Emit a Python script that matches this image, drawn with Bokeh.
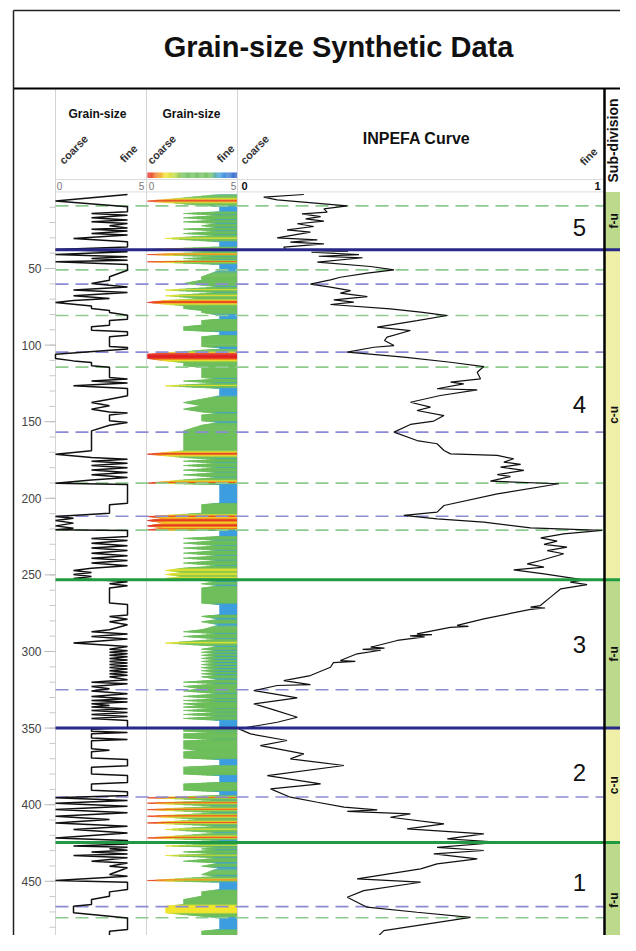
import numpy as np
from bokeh.plotting import figure
from bokeh.models import Range1d, LinearColorMapper, ColumnDataSource
from bokeh.embed import file_html
from bokeh.resources import INLINE
from bokeh.core.properties import value

# ---------------- data ----------------
gs_depth = [1.7, 6.0, 9.7, 13.0, 14.1, 15.2, 16.9, 18.4, 19.5, 20.6, 22.1, 23.5, 24.3, 25.6, 27.2, 28.2,
            30.4, 32.6, 35.9, 37.6, 39.1, 40.9, 42.4, 43.5, 44.6, 45.6, 47.4, 51.1, 55.4, 57.6, 59.8,
            62.0, 64.1, 65.7, 67.8, 69.6, 70.9, 72.2, 74.4, 76.1, 77.4, 78.7, 80.5, 83.1, 84.0, 87.0,
            88.1, 90.3, 91.3, 93.5, 94.6, 99.6, 100.9, 101.6, 102.5, 105.9, 108.7, 110.3, 111.4, 113.5,
            114.4, 121.1, 122.2, 123.5, 124.8, 126.6, 128.3, 133.1, 135.3, 137.5, 139.6, 141.8, 143.6,
            144.4, 145.7, 149.4, 150.5, 152.3, 156.0, 169.0, 171.2, 173.4, 174.5, 175.8, 177.1, 178.6,
            180.1, 181.6, 183.2, 184.7, 186.4, 188.0, 190.1, 191.0, 203.2, 204.2, 209.7, 211.9, 213.0,
            214.5, 216.2, 218.0, 219.5, 220.6, 221.0, 224.9, 226.2, 227.5, 229.3, 231.0, 232.5, 234.1,
            235.8, 237.5, 239.1, 240.6, 242.3, 244.1, 245.6, 247.1, 248.4, 249.7, 251.0, 252.3, 253.6,
            254.5, 255.8, 257.1, 258.6, 268.4, 269.3, 276.1, 277.1, 278.9, 280.6, 282.6, 285.8, 287.1,
            288.5, 290.2, 291.9, 294.5, 296.7, 298.5, 299.5, 300.5, 301.5, 302.5, 303.5, 304.5, 305.5,
            306.5, 307.5, 308.5, 309.5, 310.5, 311.5, 312.5, 313.5, 314.5, 315.5, 316.5, 318.4, 320.0,
            321.0, 322.8, 324.3, 325.8, 327.6, 329.3, 330.9, 332.0, 333.0, 334.1, 335.2, 336.3, 337.4,
            338.5, 339.8, 341.1, 342.4, 343.7, 345.0, 349.8, 350.7, 352.0, 352.8, 353.7, 356.5, 357.4,
            358.3, 363.5, 364.5, 365.5, 369.5, 370.5, 374.5, 375.5, 380.0, 381.0, 385.5, 386.5, 390.5,
            391.5, 394.0, 395.5, 397.2, 399.0, 401.0, 403.2, 405.3, 407.5, 409.7, 411.9, 414.0, 416.2,
            418.4, 421.7, 423.4, 425.6, 426.9, 427.8, 428.8, 429.7, 430.8, 432.1, 433.2, 434.7, 436.9,
            438.0, 440.2, 441.2, 445.6, 446.7, 449.5, 450.6, 455.4, 456.9, 459.7, 461.9, 465.2, 466.3,
            470.6, 471.7, 473.9, 481.5, 482.6, 489.1, 489.8, 496.0]
gs_grain = [4, 0, 4, 4, 2, 4, 2, 4, 2, 4, 3, 4, 2, 4, 2, 4,
            1, 4, 4, 0, 4, 0, 4, 2, 4, 0, 4, 4, 3, 3, 2,
            4, 1, 4, 1, 3, 1, 0, 2, 2, 3, 3, 4, 4, 3, 3,
            2, 2, 4, 4, 3, 3, 3, 4, 4, 0, 0, 1, 2, 2,
            3, 3, 4, 2, 4, 1, 4, 4, 3, 2, 3, 2, 3,
            4, 3, 3, 4, 3, 2, 2, 0, 2, 4, 2, 4, 2,
            4, 2, 4, 2, 4, 2, 0, 4, 4, 3, 3, 0, 1,
            0, 1, 0, 1, 0, 4, 4, 2, 4, 2, 4, 2, 4,
            2, 4, 2, 4, 2, 4, 2, 1, 2, 1, 2, 1, 3,
            4, 3, 4, 3, 3, 4, 4, 3, 4, 3, 4, 3, 2,
            4, 2, 4, 1, 4, 3, 4, 3, 4, 3, 4, 3, 4,
            3, 4, 3, 4, 3, 4, 3, 4, 3, 4, 3, 4, 2,
            4, 2, 3, 2, 4, 2, 4, 2, 4, 2, 3, 2, 4,
            2, 4, 2, 4, 2, 4, 4, 2, 2, 4, 2, 2, 4,
            2, 2, 3, 2, 2, 4, 4, 2, 2, 4, 4, 2, 2,
            4, 4, 0, 4, 0, 4, 0, 4, 0, 3, 0, 4, 1,
            4, 0, 4, 4, 1, 4, 3, 4, 2, 4, 1, 4, 2,
            4, 3, 4, 3, 4, 0, 4, 4, 3, 3, 2, 2, 1,
            1, 2, 4, 4, 3, 3, 4, 4]

inpefa_depth = [1.7, 3.4, 5.2, 9.1, 11.1, 13.2, 14.3, 16.1, 17.6, 19.1, 20.8, 22.6, 24.8, 26.3, 30.0,
                31.3, 32.8, 33.9, 36.1, 37.8, 38.6, 39.4, 41.0, 42.0, 43.0, 45.9, 48.7, 50.9, 53.0,
                55.7, 57.4, 60.2, 62.2, 64.4, 66.1, 68.3, 70.5, 72.0, 73.5, 76.3, 78.5, 80.7, 84.0,
                88.3, 90.5, 94.8, 97.0, 100.3, 101.4, 104.6, 107.9, 111.2, 114.0, 117.7, 122.0, 124.2,
                125.3, 128.5, 129.2, 132.9, 137.3, 140.5, 142.7, 146.0, 149.6, 151.8, 156.8, 162.3,
                164.4, 168.8, 171.0, 172.0, 174.2, 176.4, 177.9, 179.7, 181.8, 184.5, 185.8, 188.8,
                190.5, 197.1, 204.7, 209.0, 211.2, 213.4, 215.6, 219.3, 221.0, 223.2, 225.8, 228.0,
                230.1, 231.9, 234.1, 236.2, 240.6, 242.8, 244.9, 246.7, 249.3, 253.2, 254.7, 256.3,
                259.1, 264.5, 270.0, 271.0, 271.6, 272.5, 278.7, 283.0, 283.6, 284.3, 288.5, 289.0,
                289.8, 290.4, 292.8, 297.2, 297.8, 298.6, 299.2, 301.5, 305.9, 306.5, 307.3, 310.3,
                315.7, 319.0, 321.6, 322.2, 325.5, 327.7, 330.3, 334.2, 338.1, 342.9, 346.2, 350.5,
                353.8, 358.1, 361.4, 366.8, 370.1, 374.4, 381.0, 386.4, 389.7, 395.1, 398.4, 401.6,
                403.4, 404.3, 406.0, 408.2, 412.5, 415.8, 419.1, 422.3, 424.5, 427.8, 429.9, 432.1,
                435.4, 438.6, 441.9, 448.4, 450.6, 456.1, 460.4, 466.9, 470.2, 473.5, 482.2, 486.5,
                490.9, 496.0]
inpefa_value = [0.179, 0.069, 0.106, 0.298, 0.234, 0.243, 0.174, 0.225, 0.184, 0.234, 0.161, 0.206, 0.133, 0.197, 0.106,
                0.216, 0.142, 0.234, 0.124, 0.13, 0.30, 0.20, 0.33, 0.22, 0.34, 0.216, 0.362, 0.426, 0.353,
                0.279, 0.252, 0.197, 0.252, 0.307, 0.279, 0.353, 0.261, 0.316, 0.252, 0.416, 0.499, 0.572, 0.489,
                0.38, 0.471, 0.407, 0.40, 0.426, 0.371, 0.298, 0.453, 0.581, 0.672, 0.654, 0.663, 0.581,
                0.617, 0.544, 0.654, 0.553, 0.471, 0.526, 0.489, 0.563, 0.535, 0.471, 0.426, 0.489,
                0.544, 0.563, 0.581, 0.709, 0.754, 0.727, 0.773, 0.718, 0.782, 0.709, 0.745, 0.69,
                0.878, 0.709, 0.563, 0.544, 0.453, 0.544, 0.672, 0.8, 0.996, 0.891, 0.828, 0.873,
                0.837, 0.9, 0.846, 0.891, 0.828, 0.791, 0.837, 0.754, 0.837, 0.946, 0.909, 0.955,
                0.883, 0.855, 0.827, 0.80, 0.84, 0.80, 0.672, 0.599, 0.63, 0.58, 0.489, 0.53,
                0.47, 0.51, 0.435, 0.362, 0.40, 0.34, 0.39, 0.325, 0.279, 0.32, 0.26, 0.252,
                0.197, 0.124, 0.197, 0.106, 0.042, 0.097, 0.161, 0.042, 0.097, 0.161, 0.106, 0.001,
                0.033, 0.133, 0.06, 0.179, 0.142, 0.289, 0.079, 0.225, 0.088, 0.142, 0.216, 0.289,
                0.38, 0.298, 0.471, 0.416, 0.563, 0.462, 0.672, 0.572, 0.718, 0.544, 0.672, 0.535,
                0.654, 0.544, 0.499, 0.325, 0.499, 0.343, 0.298, 0.352, 0.489, 0.636, 0.398, 0.38,
                0.407, 0.407]

green_dashed_depths = [9.1, 50.9, 80.7, 114.4, 190.1, 220.8, 473.8]
blue_dashed_depths = [60.2, 104.6, 156.8, 211.7, 325.0, 395.0, 466.5]
navy_solid_depths = [37.8, 350.0]
green_solid_depths = [253.2, 424.6]

unit_labels = ["5", "4", "3", "2", "1"]
unit_depths = [23.0, 138.5, 295.5, 379.0, 451.0]

sub_tops = [0.0, 37.8, 253.2, 350.0, 424.6]
sub_bottoms = [37.8, 253.2, 350.0, 424.6, 500.0]
sub_labels = ["f-u", "c-u", "f-u", "c-u", "f-u"]

depth_major = [50, 100, 150, 200, 250, 300, 350, 400, 450]
depth_minor = list(range(10, 500, 10))

# ---------------- layout (picture pixels) ----------------
PL, PT, W, H = 0, 0, 620, 935
D0_PX, PX_PER_D = 191.4, 1.532


def Y(py):
    return (py - D0_PX) / PX_PER_D


FONT = value("Liberation Sans")

p = figure(width=W, height=H, output_backend="svg", toolbar_location=None,
           x_range=Range1d(PL, PL + W), y_range=Range1d(Y(PT + H), Y(PT)),
           x_axis_type=None, y_axis_type=None,
           min_border_left=0, min_border_right=0, min_border_top=0, min_border_bottom=0)
p.outline_line_color = None
p.background_fill_color = "white"
p.border_fill_color = "white"


def track_range(left_px, px_per_unit):
    return Range1d((PL - left_px) / px_per_unit, (PL + W - left_px) / px_per_unit)


p.extra_x_ranges = {"gs1": track_range(55, 18), "gs2": track_range(147, 18),
                    "inp": track_range(238, 365)}

# colour table
stops = [(0.0, (226, 35, 38)), (0.5, (240, 125, 32)), (1.0, (242, 230, 45)), (1.5, (190, 215, 62)),
         (2.0, (110, 190, 92)), (3.5, (110, 190, 92)), (4.0, (60, 158, 222)), (5.0, (45, 88, 200))]
pal = []
for t in np.linspace(0, 5, 256):
    for (a, ca), (b, cb) in zip(stops[:-1], stops[1:]):
        if a <= t <= b:
            f = (t - a) / (b - a)
            c = [int(round(ca[i] + (cb[i] - ca[i]) * f)) for i in range(3)]
            pal.append("#%02x%02x%02x" % tuple(c))
            break
mapper = LinearColorMapper(palette=pal, low=0, high=5)

RIGHT = PL + W

# sub-division column
p.quad(left=605, right=RIGHT, top=sub_tops, bottom=sub_bottoms,
       fill_color=["#bcd98c" if s == "f-u" else "#f0efa8" for s in sub_labels], line_color=None)

# track 2 fill
xs, ys, cs = [], [], []
for i in range(len(gs_depth) - 1):
    d0, d1, v0, v1 = gs_depth[i], gs_depth[i + 1], gs_grain[i], gs_grain[i + 1]
    n = 1 if v0 == v1 else 8
    for k in range(n):
        t0, t1 = k / n, (k + 1) / n
        da, db = d0 + (d1 - d0) * t0, d0 + (d1 - d0) * t1
        va, vb = v0 + (v1 - v0) * t0, v0 + (v1 - v0) * t1
        xs.append([va, vb, 5, 5])
        ys.append([da, db, db, da])
        cs.append((va + vb) / 2)
fill_src = ColumnDataSource(dict(xs=xs, ys=ys, c=cs))
p.patches("xs", "ys", source=fill_src, x_range_name="gs2",
          fill_color={"field": "c", "transform": mapper},
          line_color={"field": "c", "transform": mapper}, line_width=0.5)

# colour bar in header
cb_left = list(np.arange(0, 5, 0.05))
cb_src = ColumnDataSource(dict(l=cb_left, r=[v + 0.05 for v in cb_left], c=[v + 0.025 for v in cb_left]))
p.quad(left="l", right="r", top=Y(172), bottom=Y(177.5), source=cb_src, x_range_name="gs2",
       fill_color={"field": "c", "transform": mapper}, line_color=None)

# gray separators & header lines
bottom_d = 500
p.segment(x0=[55, 146, 237], y0=Y(88), x1=[55, 146, 237], y1=bottom_d, line_color="#d4d4d4", line_width=1)
p.segment(x0=55, y0=[Y(179), 0], x1=603, y1=[Y(179), 0], line_color="#dcdcdc", line_width=1)

# depth axis (ticks + labels)
p.segment(x0=49, y0=depth_minor, x1=55, y1=depth_minor, line_color="#c8c8c8", line_width=1)
p.segment(x0=44, y0=depth_major, x1=55, y1=depth_major, line_color="#bdbdbd", line_width=1)
p.text(x=41, y=depth_major, text=[str(t) for t in depth_major], text_font=FONT, text_font_size="12px",
       text_color="#444444", text_align="right", text_baseline="middle")

# correlation lines
p.segment(x0=55, y0=green_dashed_depths, x1=603, y1=green_dashed_depths, line_color="#8ecb8e",
          line_width=1.6, line_dash="13 7")
p.segment(x0=55, y0=blue_dashed_depths, x1=603, y1=blue_dashed_depths, line_color="#8c8cd4",
          line_width=1.6, line_dash="13 7")

# curves
p.line(x=gs_grain, y=gs_depth, x_range_name="gs1", line_color="#111111", line_width=1.5)
p.line(x=inpefa_value, y=inpefa_depth, x_range_name="inp", line_color="#111111", line_width=1.2)

# boundaries (solid)
p.segment(x0=55, y0=navy_solid_depths, x1=RIGHT, y1=navy_solid_depths, line_color="#27288a", line_width=3)
p.segment(x0=55, y0=green_solid_depths, x1=RIGHT, y1=green_solid_depths, line_color="#1f9a40", line_width=3)

# black frame lines
p.segment(x0=604, y0=Y(88), x1=604, y1=bottom_d, line_color="black", line_width=2.5)
p.segment(x0=13, y0=Y(88), x1=RIGHT, y1=Y(88), line_color="black", line_width=2.2)
p.segment(x0=[13, 13], y0=[Y(10), Y(10)], x1=[13, RIGHT], y1=[bottom_d, Y(10)], line_color="#222222",
          line_width=1.5)

# unit numbers
p.text(x=579, y=unit_depths, text=unit_labels, text_font=FONT, text_font_size="24px",
       text_color="#111111", text_align="center", text_baseline="middle")

# sub-division labels
sub_mid = [(a + b) / 2 for a, b in zip(sub_tops, sub_bottoms)]
p.text(x=613, y=sub_mid, text=sub_labels, text_font=FONT, text_font_size="12px", text_font_style="bold",
       text_color="#111111", text_align="center", text_baseline="middle", angle=np.pi / 2)

# headers
p.text(x=[338], y=[Y(46)], text=["Grain-size Synthetic Data"], text_font=FONT, text_font_size="29px",
       text_font_style="bold", text_color="#111111", text_align="center", text_baseline="middle")
p.text(x=[97, 191], y=[Y(113), Y(113)], text=["Grain-size", "Grain-size"], text_font=FONT,
       text_font_size="12px", text_font_style="bold", text_color="#111111", text_align="center",
       text_baseline="middle")
p.text(x=[416], y=[Y(138)], text=["INPEFA Curve"], text_font=FONT, text_font_size="16px",
       text_font_style="bold", text_color="#111111", text_align="center", text_baseline="middle")
p.text(x=[612], y=[Y(140)], text=["Sub-division"], text_font=FONT, text_font_size="14px",
       text_font_style="bold", text_color="#111111", text_align="center", text_baseline="middle",
       angle=np.pi / 2)
p.text(x=[73, 128, 161, 225, 254, 588], y=[Y(149), Y(153), Y(149), Y(153), Y(149), Y(156)],
       text=["coarse", "fine", "coarse", "fine", "coarse", "fine"], text_font=FONT, text_font_size="11px",
       text_font_style="bold", text_color="#333333", text_align="center", text_baseline="middle",
       angle=0.8)
p.text(x=[59, 141, 151, 233], y=Y(185), text=["0", "5", "0", "5"], text_font=FONT, text_font_size="10px",
       text_color="#777777", text_align="center", text_baseline="middle")
p.text(x=[244, 597], y=Y(185), text=["0", "1"], text_font=FONT, text_font_size="11px",
       text_font_style="bold", text_color="#111111", text_align="center", text_baseline="middle")

open("out.html", "w").write(file_html(p, INLINE))
